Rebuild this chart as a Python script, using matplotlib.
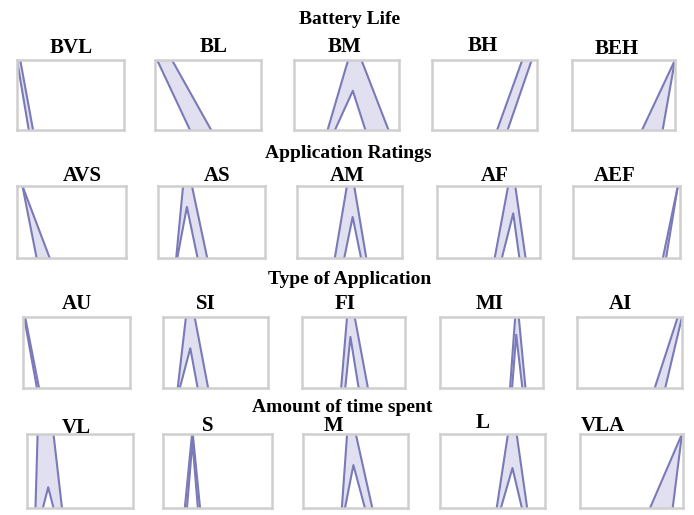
import matplotlib
matplotlib.use("Agg")
import matplotlib.pyplot as plt

# ---------------- data ----------------
row_titles = ["Battery Life", "Application Ratings", "Type of Application", "Amount of time spent"]

battery_labels = ["BVL", "BL", "BM", "BH", "BEH"]
battery_upper = [[(0.03, 1), (0.15, 0)],
                 [(0.16, 1), (0.53, 0)],
                 [(0.32, 0), (0.57, 1.28), (0.90, 0)],
                 [(0.62, 0), (0.86, 1)],
                 [(0.68, 0), (1.0, 1)]]
battery_lower = [[(0.0, 1), (0.11, 0)],
                 [(0.02, 1), (0.33, 0)],
                 [(0.39, 0), (0.56, 0.56), (0.68, 0)],
                 [(0.72, 0), (0.95, 1)],
                 [(0.88, 0), (1.0, 1)]]

rating_labels = ["AVS", "AS", "AM", "AF", "AEF"]
rating_upper = [[(0.05, 1), (0.30, 0)],
                [(0.17, 0), (0.26, 1.4), (0.46, 0)],
                [(0.36, 0), (0.51, 1.3), (0.66, 0)],
                [(0.56, 0), (0.73, 1.3), (0.86, 0)],
                [(0.84, 0), (0.98, 1)]]
rating_lower = [[(0.05, 1), (0.18, 0)],
                [(0.18, 0), (0.27, 0.71), (0.37, 0)],
                [(0.45, 0), (0.53, 0.57), (0.61, 0)],
                [(0.63, 0), (0.74, 0.62), (0.80, 0)],
                [(0.87, 0), (0.98, 1)]]

type_labels = ["AU", "SI", "FI", "MI", "AI"]
type_upper = [[(0.02, 1), (0.15, 0)],
              [(0.14, 0), (0.25, 1.4), (0.43, 0)],
              [(0.38, 0), (0.46, 1.4), (0.64, 0)],
              [(0.68, 0), (0.745, 1.3), (0.83, 0)],
              [(0.74, 0), (0.96, 1)]]
type_lower = [[(0.01, 1), (0.13, 0)],
              [(0.16, 0), (0.26, 0.56), (0.33, 0)],
              [(0.42, 0), (0.47, 0.72), (0.55, 0)],
              [(0.70, 0), (0.74, 0.75), (0.80, 0)],
              [(0.84, 0), (1.0, 1)]]

time_labels = ["VL", "S", "M", "L", "VLA"]
time_upper = [[(0.08, 0), (0.13, 2.5), (0.33, 0)],
              [(0.20, 0), (0.27, 1.05), (0.34, 0)],
              [(0.37, 0), (0.44, 1.4), (0.66, 0)],
              [(0.54, 0), (0.69, 1.4), (0.83, 0)],
              [(0.68, 0), (0.99, 1)]]
time_lower = [[(0.15, 0), (0.20, 0.28), (0.25, 0)],
              [(0.22, 0), (0.27, 0.9), (0.32, 0)],
              [(0.40, 0), (0.48, 0.58), (0.59, 0)],
              [(0.58, 0), (0.69, 0.54), (0.78, 0)],
              [(0.90, 0), (0.99, 1)]]

rows = [(battery_labels, battery_upper, battery_lower),
        (rating_labels, rating_upper, rating_lower),
        (type_labels, type_upper, type_lower),
        (time_labels, time_upper, time_lower)]

# ---------------- layout (pixels) ----------------
W, H = 694, 515
row_box_y = [(60, 130), (186, 258), (317, 388), (434, 508)]
row_box_x = [[(17, 124), (155, 261), (294, 399), (432, 537), (572, 675)],
             [(17, 126), (158, 265), (297, 402), (437, 540), (573, 680)],
             [(23, 130), (163, 268), (302, 405), (440, 543), (577, 682)],
             [(27, 133), (163, 272), (303, 408), (440, 545), (580, 683)]]
row_title_pos = [(350, 19), (348, 153), (350, 279), (342, 408)]
panel_title_pos = [[(71, 48), (214, 47), (345, 47), (483, 46), (617, 49)],
                   [(82, 176), (217, 176), (347, 176), (495, 176), (615, 176)],
                   [(77, 304), (206, 304), (345, 304), (490, 304), (620, 304)],
                   [(76, 428), (208, 426), (334, 426), (483, 423), (603, 426)]]

LINE = "#7a7ab8"
FILL = "#e0e0f0"
SPINE = "#cfcfcf"
ROW_FONT = dict(family="Liberation Serif", weight="bold", fontsize=14)
PANEL_FONT = dict(family="Liberation Serif", weight="bold", fontsize=15)

fig = plt.figure(figsize=(W / 100, H / 100), dpi=100)
fig.patch.set_facecolor("white")


def area_polygon(verts, lo=-0.3, hi=1.3):
    xs = [v[0] for v in verts]
    ys = [v[1] for v in verts]
    px = [lo, lo] + xs + [hi, hi]
    py = [0, ys[0]] + ys + [ys[-1], 0]
    return px, py


for r, (labels, uppers, lowers) in enumerate(rows):
    top, bot = row_box_y[r]
    tx, ty = row_title_pos[r]
    fig.text(tx / W, 1 - ty / H, row_titles[r], ha="center", va="center", **ROW_FONT)
    for c in range(5):
        left, right = row_box_x[r][c]
        ax = fig.add_axes([left / W, 1 - bot / H, (right - left) / W, (bot - top) / H])
        ax.set_xlim(0, 1)
        ax.set_ylim(0, 1)
        ax.set_xticks([])
        ax.set_yticks([])
        for s in ax.spines.values():
            s.set_color(SPINE)
            s.set_linewidth(1.8)
        ux, uy = area_polygon(uppers[c])
        lx, ly = area_polygon(lowers[c])
        ax.fill(ux, uy, color=FILL, lw=0, zorder=1)
        ax.fill(lx, ly, color="white", lw=0, zorder=1.1)
        ax.plot([v[0] for v in uppers[c]], [v[1] for v in uppers[c]], color=LINE, lw=1.5, zorder=2)
        ax.plot([v[0] for v in lowers[c]], [v[1] for v in lowers[c]], color=LINE, lw=1.5, zorder=2)
        px, py = panel_title_pos[r][c]
        fig.text(px / W, 1 - py / H, labels[c], ha="center", va="center", **PANEL_FONT)

fig.savefig("out.png", dpi=100, facecolor="white")
